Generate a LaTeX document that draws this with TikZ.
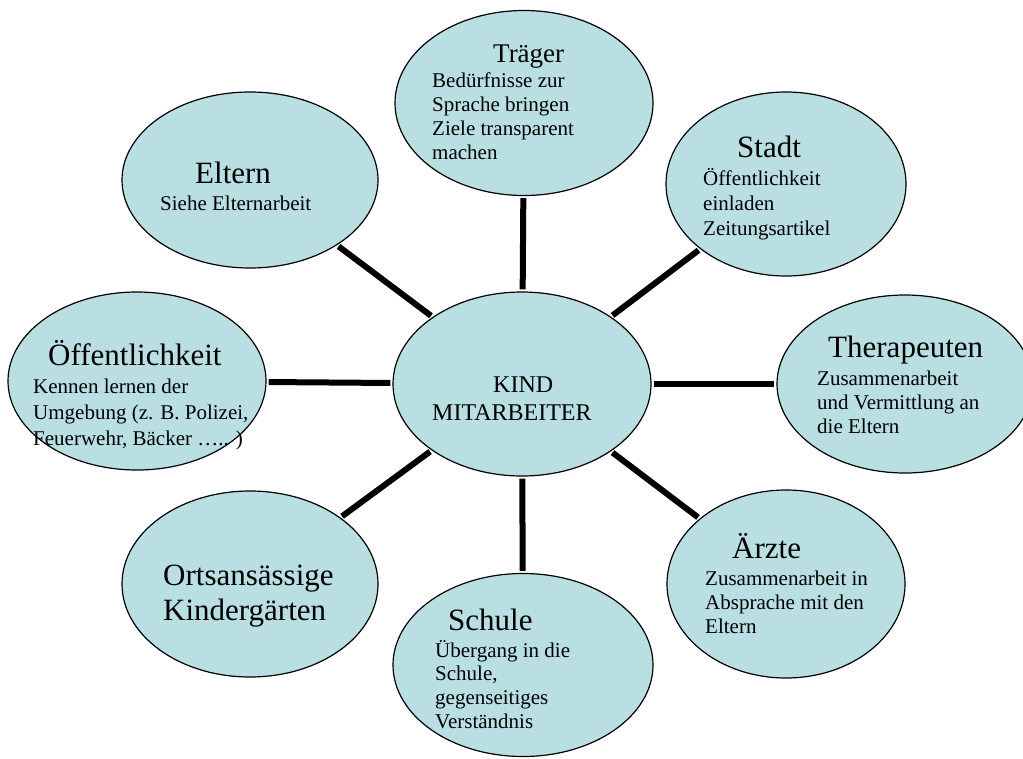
\documentclass[tikz,border=0pt]{standalone}
\usepackage{fontspec}
\setmainfont{Liberation Serif}
\usetikzlibrary{shapes.geometric}
\definecolor{bubblefill}{RGB}{185,223,227}
\newcommand{\stk}[2]{\vtop{\baselineskip=#1\lineskiplimit=-100pt\lineskip=0pt #2}}
\tikzset{
  bubble/.style={ellipse, draw=black, line width=1.2pt, fill=bubblefill, inner sep=0pt},
  ttl/.style={anchor=base west, inner sep=0pt, font=\fontsize{31}{34}\selectfont},
  subtxt/.style={anchor=base west, inner sep=0pt, font=\fontsize{21}{24}\selectfont},
  conn/.style={draw=black, line width=6pt, shorten >=2pt, shorten <=2pt}
}
\begin{document}
\begin{tikzpicture}[x=1pt,y=-1pt]
\useasboundingbox (0,0) rectangle (1023,758);
\clip (0,0) rectangle (1023,758);
% ellipses
\node[bubble, minimum width=258pt, minimum height=185pt] (traeger) at (524,103) {};
\node[bubble, minimum width=256pt, minimum height=176pt] (eltern) at (250,180) {};
\node[bubble, minimum width=240pt, minimum height=184pt] (stadt) at (786,184) {};
\node[bubble, minimum width=258pt, minimum height=178pt] (oeff) at (137,381) {};
\node[bubble, minimum width=258pt, minimum height=184pt] (kind) at (522,384) {};
\node[bubble, minimum width=256pt, minimum height=178pt] (ther) at (905,384) {};
\node[bubble, minimum width=256pt, minimum height=186pt] (orts) at (250,584) {};
\node[bubble, minimum width=238pt, minimum height=188pt] (aerzte) at (786,584) {};
\node[bubble, minimum width=260pt, minimum height=183pt] (schule) at (523,665) {};
% connectors
\draw[conn] (traeger) -- (kind);
\draw[conn] (eltern) -- (kind);
\draw[conn] (stadt) -- (kind);
\draw[conn] (oeff) -- (kind);
\draw[conn] (ther) -- (kind);
\draw[conn] (orts) -- (kind);
\draw[conn] (aerzte) -- (kind);
\draw[conn] (schule) -- (kind);
% texts
\node[ttl, font=\fontsize{27}{30}\selectfont] (traeger-t) at (493,62) {Träger};
\node[subtxt] (traeger-s) at (432,87) {\stk{24.3pt}{\hbox{Bedürfnisse zur}\hbox{Sprache bringen}\hbox{Ziele transparent}\hbox{machen}}};
\node[ttl] (eltern-t) at (195,183) {Eltern};
\node[subtxt] (eltern-s) at (160,210) {Siehe Elternarbeit};
\node[ttl] (stadt-t) at (737,157) {Stadt};
\node[subtxt] (stadt-s) at (703,185) {\stk{25pt}{\hbox{Öffentlichkeit}\hbox{einladen}\hbox{Zeitungsartikel}}};
\node[ttl] (oeff-t) at (48,365) {Öffentlichkeit};
\node[subtxt] (oeff-s) at (33,393) {\stk{26pt}{\hbox{Kennen lernen der}\hbox{Umgebung (z. B. Polizei,}\hbox{Feuerwehr, Bäcker ….. )}}};
\node[subtxt, font=\fontsize{24}{28}\selectfont] (kind-t1) at (493,392) {KIND};
\node[subtxt, font=\fontsize{24}{28}\selectfont] (kind-t2) at (432,420) {MITARBEITER};
\node[ttl] (ther-t) at (828,357) {Therapeuten};
\node[subtxt] (ther-s) at (817,385) {\stk{24pt}{\hbox{Zusammenarbeit}\hbox{und Vermittlung an}\hbox{die Eltern}}};
\node[ttl] (orts-t) at (163,585) {\stk{35pt}{\hbox{Ortsansässige}\hbox{Kindergärten}}};
\node[ttl] (aerzte-t) at (732,558) {Ärzte};
\node[subtxt] (aerzte-s) at (705,585) {\stk{24pt}{\hbox{Zusammenarbeit in}\hbox{Absprache mit den}\hbox{Eltern}}};
\node[ttl] (schule-t) at (448,630) {Schule};
\node[subtxt] (schule-s) at (435,657) {\stk{23.7pt}{\hbox{Übergang in die}\hbox{Schule,}\hbox{gegenseitiges}\hbox{Verständnis}}};
\end{tikzpicture}
\end{document}
